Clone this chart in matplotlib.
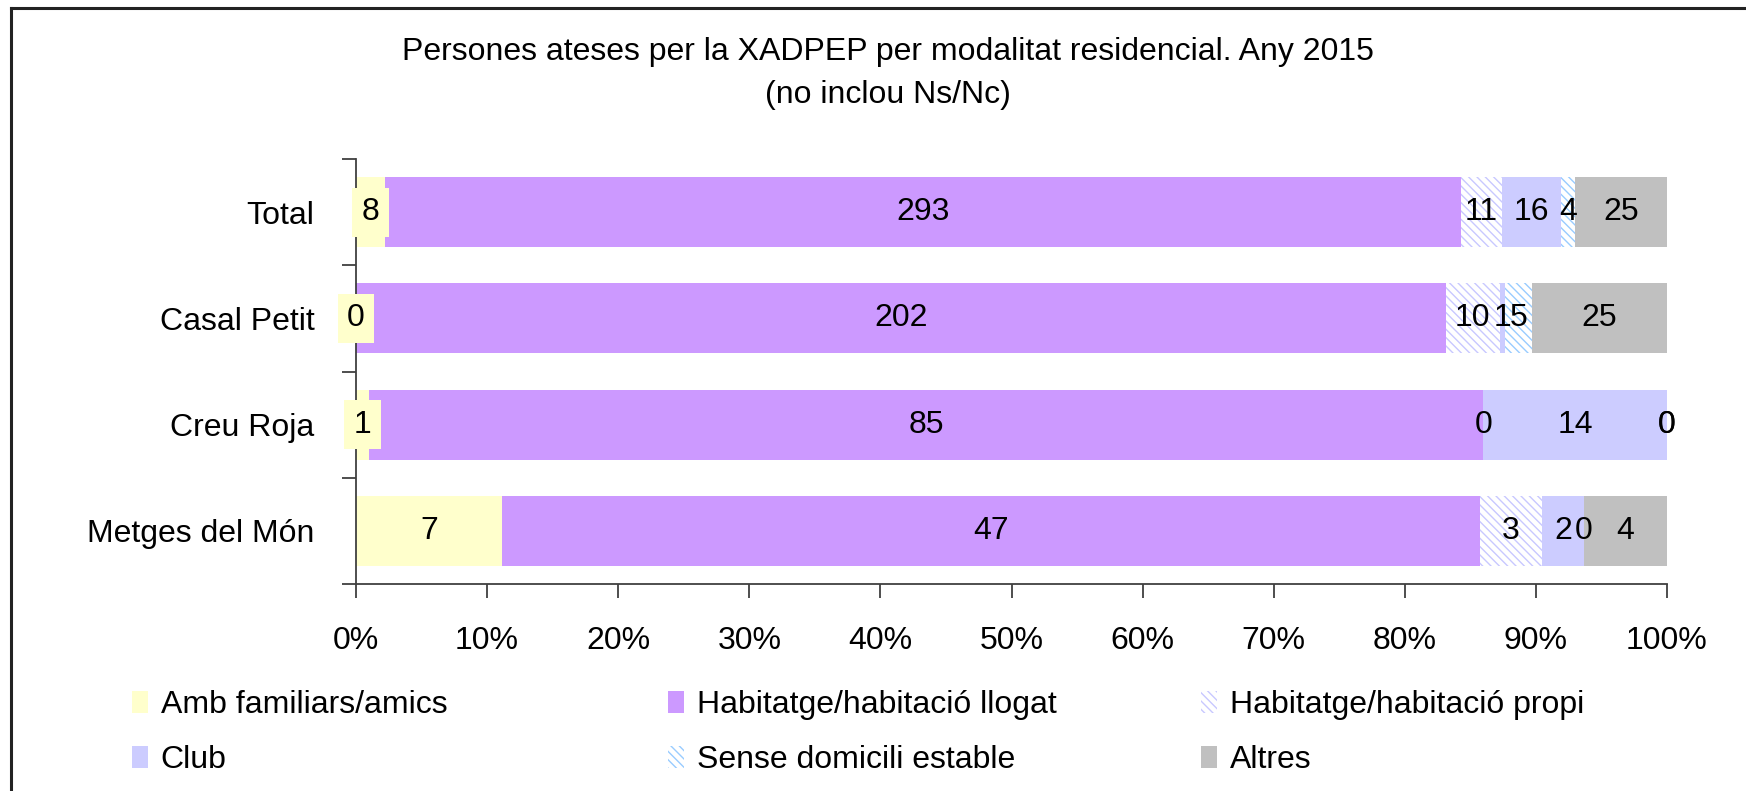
import matplotlib.pyplot as plt
from matplotlib.patches import Patch
from matplotlib.lines import Line2D
from matplotlib.ticker import FuncFormatter, FixedLocator, NullFormatter

plt.rcParams['font.family'] = ['Liberation Sans', 'DejaVu Sans']
plt.rcParams['hatch.linewidth'] = 1.0

# data
categories = ['Total', 'Casal Petit', 'Creu Roja', 'Metges del Món']
series = ['Amb familiars/amics', 'Habitatge/habitació llogat', 'Habitatge/habitació propi',
          'Club', 'Sense domicili estable', 'Altres']
amb = [8, 0, 1, 7]
llogat = [293, 202, 85, 47]
propi = [11, 10, 0, 3]
club = [16, 1, 14, 2]
sense = [4, 5, 0, 0]
altres = [25, 25, 0, 4]
values = [amb, llogat, propi, club, sense, altres]

# styles: (facecolor, hatch color, hatch)
styles = [('#FFFFCC', '#FFFFCC', None),
          ('#CC99FF', '#CC99FF', None),
          ('white', '#C8C8FF', '\\\\\\\\'),
          ('#CCCCFF', '#CCCCFF', None),
          ('white', '#99CCFF', '\\\\\\\\'),
          ('#C0C0C0', '#C0C0C0', None)]

W, H = 1746, 791
fig = plt.figure(figsize=(W / 100, H / 100), dpi=100)
ax = fig.add_axes([356 / W, 1 - 584 / H, (1667 - 356) / W, (584 - 159) / H])

totals = [sum(v[i] for v in values) for i in range(len(categories))]
ypos = list(range(len(categories)))
left = [0.0] * len(categories)
fs = 23
for s, vals in enumerate(values):
    fc, hc, hatch = styles[s]
    widths = [v / t for v, t in zip(vals, totals)]
    ax.barh(ypos, widths, left=left, height=0.66, color=fc, edgecolor=hc,
            hatch=hatch, linewidth=0)
    for i, (v, w) in enumerate(zip(vals, widths)):
        xc = left[i] + w / 2
        if s == 0:
            ax.text(xc, ypos[i], str(v), ha='center', va='center', fontsize=fs,
                    bbox=dict(boxstyle='square,pad=0.3', fc='#FFFFCC', ec='none'),
                    zorder=5)
        else:
            ax.text(xc, ypos[i], str(v), ha='center', va='center', fontsize=fs, zorder=5)
    left = [l + w for l, w in zip(left, widths)]

ax.set_xlim(0, 1)
ax.set_ylim(len(categories) - 0.5, -0.5)
ax.set_xticks([i / 10 for i in range(11)])
ax.xaxis.set_major_formatter(FuncFormatter(lambda x, p: f'{x * 100:.0f}%'))
ax.yaxis.set_major_locator(FixedLocator([i - 0.5 for i in range(len(categories) + 1)]))
ax.yaxis.set_major_formatter(NullFormatter())
ax.yaxis.set_minor_locator(FixedLocator(ypos))
ax.set_yticklabels(categories, minor=True)
ax.tick_params(axis='y', which='minor', length=0, pad=30, labelsize=fs)
ax.tick_params(axis='y', which='major', length=10, width=1.3, color='#404040')
ax.tick_params(axis='x', length=10, width=1.3, color='#404040', pad=20, labelsize=fs)
for side in ['top', 'right']:
    ax.spines[side].set_visible(False)
for side in ['left', 'bottom']:
    ax.spines[side].set_color('#404040')
    ax.spines[side].set_linewidth(1.3)

fig.text(888 / W, 1 - 52 / H, 'Persones ateses per la XADPEP per modalitat residencial. Any 2015',
         ha='center', va='center', fontsize=fs)
fig.text(888 / W, 1 - 95 / H, '(no inclou Ns/Nc)', ha='center', va='center', fontsize=fs)

# legend, three columns
handles = [Patch(facecolor=st[0], edgecolor=st[1], hatch=st[2], linewidth=0) for st in styles]
cols = [(0, 3), (1, 4), (2, 5)]
col_x = [132, 668, 1201]
for (a, b), x in zip(cols, col_x):
    leg = fig.legend([handles[a], handles[b]], [series[a], series[b]],
                     loc='upper left', bbox_to_anchor=(x / W, 1 - 690 / H),
                     frameon=False, fontsize=fs, handlelength=0.5, handleheight=0.7,
                     handletextpad=0.4, labelspacing=0.78, borderpad=0, borderaxespad=0)

# outer frame
fig.add_artist(Line2D([11 / W, 1], [1 - 8 / H, 1 - 8 / H], color='#222222', lw=2.2))
fig.add_artist(Line2D([11 / W, 11 / W], [0, 1 - 8 / H], color='#222222', lw=2.2))

fig.savefig('out.png', dpi=100)
